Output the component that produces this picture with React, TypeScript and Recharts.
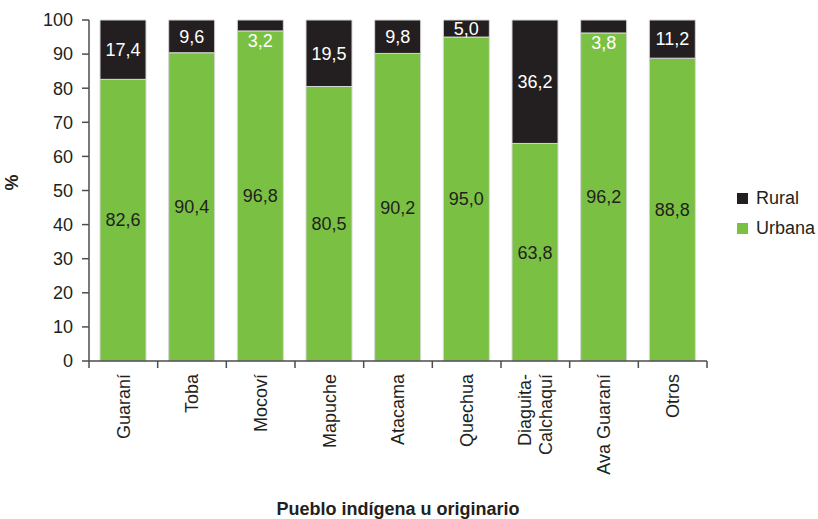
import React from 'react';
import { BarChart, Bar, XAxis, YAxis, LabelList, Legend } from 'recharts';

const pueblos = ['Guaraní', 'Toba', 'Mocoví', 'Mapuche', 'Atacama', 'Quechua', 'Diaguita-Calchaquí', 'Ava Guaraní', 'Otros'];
const urbana = [82.6, 90.4, 96.8, 80.5, 90.2, 95.0, 63.8, 96.2, 88.8];
const rural = [17.4, 9.6, 3.2, 19.5, 9.8, 5.0, 36.2, 3.8, 11.2];
const yTicks = [0, 10, 20, 30, 40, 50, 60, 70, 80, 90, 100];
const boundaryTicks = [0, 1, 2, 3, 4, 5, 6, 7, 8, 9];

// pos = centre of each category slot on a 0..9 scale, used only for the boundary tick axis
const data = pueblos.map((p, i) => ({ pueblo: p, pos: i + 0.5, urbana: urbana[i], rural: rural[i] }));

const GREEN = '#7ac143';
const BLACK = '#231f20';
const FONT = '"Liberation Sans", Arial, Helvetica, sans-serif';

const fmt = (v: number) => v.toFixed(1).replace('.', ',');

const CategoryTick = (props: any) => {
  const { x, y, payload } = props;
  const parts = String(payload.value).includes('-')
    ? [String(payload.value).split('-')[0] + '-', String(payload.value).split('-')[1]]
    : [String(payload.value)];
  const ty = y + 5;
  return (
    <g transform={`translate(${x},${ty}) rotate(-90)`}>
      {parts.map((t, i) => (
        <text
          key={i}
          x={0}
          y={0}
          dy={parts.length === 1 ? '0.35em' : i === 0 ? '-0.25em' : '0.95em'}
          textAnchor="end"
          fill={BLACK}
          fontSize={18}
          fontFamily={FONT}
        >
          {t}
        </text>
      ))}
    </g>
  );
};

const UrbanaLabel = (props: any) => {
  const { x, y, width, height, value } = props;
  return (
    <text x={x + width / 2} y={y + height / 2} dy="0.35em" textAnchor="middle" fill={BLACK} fontSize={18} fontFamily={FONT}>
      {fmt(value)}
    </text>
  );
};

const RuralLabel = (props: any) => {
  const { x, y, width, height, value } = props;
  const cy = value < 4 ? y + height + 10 : y + height / 2;
  return (
    <text x={x + width / 2} y={cy} dy="0.35em" textAnchor="middle" fill="#ffffff" fontSize={18} fontFamily={FONT}>
      {fmt(value)}
    </text>
  );
};

const LegendContent = () => {
  const items = [
    { label: 'Rural', color: BLACK },
    { label: 'Urbana', color: GREEN },
  ];
  return (
    <div style={{ fontFamily: FONT, fontSize: 18, color: BLACK }}>
      {items.map((it) => (
        <div key={it.label} style={{ display: 'flex', alignItems: 'center', height: 30 }}>
          <span style={{ display: 'inline-block', width: 11, height: 11, background: it.color, marginRight: 8 }} />
          <span>{it.label}</span>
        </div>
      ))}
    </div>
  );
};

export default function App() {
  return (
    <div style={{ position: 'absolute', left: 0, top: 0, width: 818, height: 519, background: '#fff' }}>
      <BarChart
        width={818}
        height={519}
        data={data}
        margin={{ top: 20, right: 111, bottom: 0, left: 0 }}
        barSize={46}
      >
        <XAxis
          xAxisId="b"
          dataKey="pueblo"
          height={150}
          axisLine={false}
          tickLine={false}
          tickSize={0}
          tickMargin={0}
          interval={0}
          tick={<CategoryTick />}
          label={{
            value: 'Pueblo indígena u originario',
            position: 'insideBottom',
            offset: 4,
            fill: BLACK,
            fontSize: 18,
            fontWeight: 'bold',
            fontFamily: FONT,
          }}
        />
        <XAxis
          xAxisId="a"
          type="number"
          dataKey="pos"
          domain={[0, 9]}
          ticks={boundaryTicks}
          interval={0}
          allowDataOverflow
          padding={{ left: 0, right: 0 }}
          height={8}
          tickSize={7}
          tickFormatter={() => ''}
          stroke="#4d4d4d"
          axisLine={{ stroke: '#4d4d4d', strokeWidth: 1.5 }}
          tickLine={{ stroke: '#4d4d4d', strokeWidth: 1.5 }}
        />
        <YAxis
          domain={[0, 100]}
          ticks={yTicks}
          width={89}
          tickSize={7}
          tickMargin={9}
          interval={0}
          tick={{ fill: BLACK, fontSize: 18, fontFamily: FONT }}
          axisLine={{ stroke: '#4d4d4d', strokeWidth: 1.5 }}
          tickLine={{ stroke: '#4d4d4d', strokeWidth: 1.5 }}
          label={{
            value: '%',
            angle: -90,
            position: 'insideLeft',
            offset: 12,
            fill: BLACK,
            fontSize: 18,
            fontWeight: 'bold',
            fontFamily: FONT,
          }}
        />
        <Legend
          layout="horizontal"
          verticalAlign="middle"
          align="center"
          content={<LegendContent />}
          wrapperStyle={{ left: 737, top: 183, width: 90, height: 60 }}
        />
        <Bar xAxisId="b" dataKey="urbana" name="Urbana" stackId="a" fill={GREEN} stroke="#d6d6d6" strokeWidth={1} isAnimationActive={false}>
          <LabelList dataKey="urbana" content={<UrbanaLabel />} />
        </Bar>
        <Bar xAxisId="b" dataKey="rural" name="Rural" stackId="a" fill={BLACK} stroke="#d6d6d6" strokeWidth={1} isAnimationActive={false}>
          <LabelList dataKey="rural" content={<RuralLabel />} />
        </Bar>
      </BarChart>
    </div>
  );
}
